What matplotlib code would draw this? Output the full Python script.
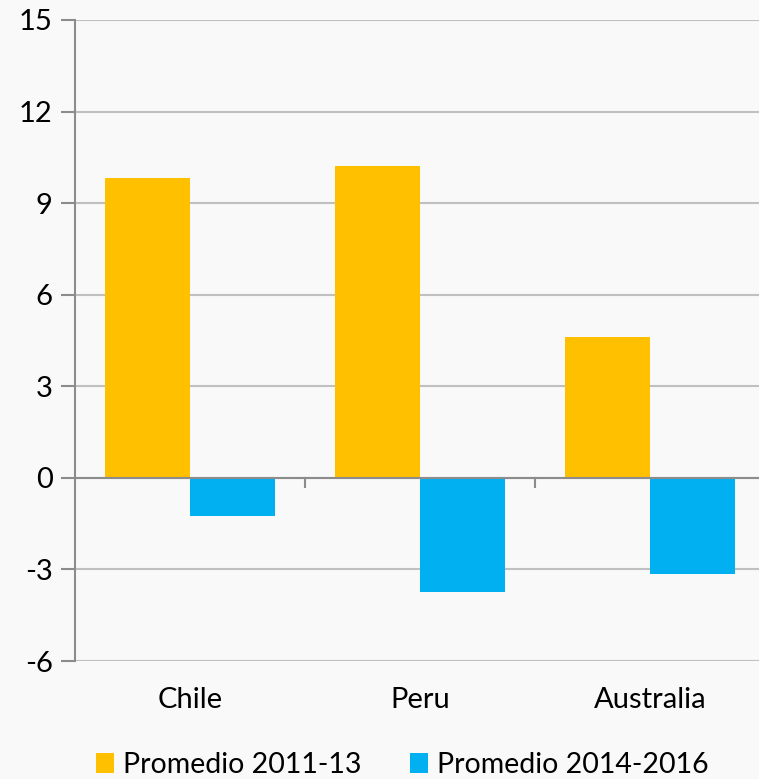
import matplotlib.pyplot as plt
import numpy as np

countries = ["Chile", "Peru", "Australia"]
prom_2011_13 = [9.84, 10.23, 4.62]
prom_2014_16 = [-1.25, -3.74, -3.15]
yticks = [-6, -3, 0, 3, 6, 9, 12, 15]

plt.rcParams['font.family'] = ['Lato', 'DejaVu Sans']
bg = '#f9f9f9'

fig = plt.figure(figsize=(7.59, 7.79), dpi=100, facecolor=bg)
W, H = 759, 779
ax = fig.add_axes([75 / W, 1 - 661 / H, 690 / W, 641 / H], facecolor=bg)

x = np.arange(len(countries))
w = 0.37
ax.bar(x - w / 2, prom_2011_13, w, color='#ffc000', label='Promedio 2011-13', zorder=3)
ax.bar(x + w / 2, prom_2014_16, w, color='#00b0f0', label='Promedio 2014-2016', zorder=3)

ax.set_xlim(-0.5, 2.5)
ax.set_ylim(-6, 15)
ax.set_yticks(yticks)
ax.set_yticklabels([str(t) for t in yticks], fontsize=21)
ax.grid(axis='y', color='#c0c0c0', linewidth=1.5, zorder=0)
ax.axhline(0, color='#8c8c8c', linewidth=1.5, zorder=4)

# category separators below zero line
for b in [0.5, 1.5]:
    ax.plot([b, b], [0, -0.3], color='#8c8c8c', linewidth=1.5, zorder=4, clip_on=False)

ax.set_xticks(x)
ax.set_xticklabels(countries, fontsize=21)
ax.tick_params(axis='x', length=0, pad=19)
ax.tick_params(axis='y', length=10, width=1.5, color='#8c8c8c', pad=6)

for s in ['top', 'right', 'bottom']:
    ax.spines[s].set_visible(False)
ax.spines['left'].set_color('#8c8c8c')
ax.spines['left'].set_linewidth(1.5)

fig.legend(loc='center', bbox_to_anchor=(402 / W, 1 - 765 / H), ncol=2, frameon=False,
           fontsize=20.5, handlelength=0.65, handleheight=0.65, handletextpad=0.3,
           columnspacing=1.7)

fig.savefig('out.png', dpi=100, facecolor=bg)
